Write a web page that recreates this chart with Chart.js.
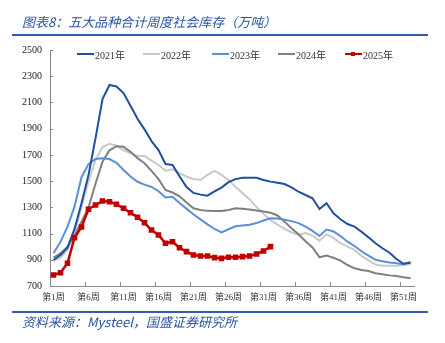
<!DOCTYPE html>
<html>
<head>
<meta charset="utf-8">
<script src="https://cdn.jsdelivr.net/npm/chart.js@4.4.1/dist/chart.umd.min.js"></script>
<style>
  html, body { margin: 0; padding: 0; background: #fff; }
  #wrap { position: relative; width: 445px; height: 343px; overflow: hidden; }
  #c { position: absolute; left: 0; top: 0; }
  .title { position: absolute; left: 22px; top: 13px; font: italic 13px "Noto Sans CJK SC", sans-serif; color: #2a55a0; white-space: nowrap; line-height: 18px; }
  .rule { position: absolute; left: 12px; width: 416px; height: 2px; background: #2f5fae; }
  .src { position: absolute; left: 22px; top: 313px; font: italic 13px "Noto Sans CJK SC", sans-serif; color: #2a55a0; white-space: nowrap; line-height: 18px; }
  .lg { position: absolute; top: 48px; height: 12px; display: flex; align-items: center; font: 10px "Liberation Serif", "Noto Sans CJK SC", serif; color: #333; white-space: nowrap; }
  .lg .ln { width: 17px; height: 2px; margin-right: 1px; position: relative; }
  .lg .mk { position: absolute; left: 6px; top: -1px; width: 4px; height: 4.5px; background: #c00000; }
</style>
</head>
<body>
<div id="wrap">
  <canvas id="c" width="445" height="343"></canvas>
  <div class="title">图表8：五大品种合计周度社会库存（万吨）</div>
  <div class="rule" style="top:34px"></div>
  <div class="rule" style="top:311px"></div>
  <div class="src">资料来源：Mysteel，国盛证券研究所</div>
  <div id="legend"></div>
</div>
<script>
const weekCount = 52;
const weekLabels = [];
for (let i = 1; i <= weekCount; i++) weekLabels.push('第' + i + '周');

const seriesNames = ['2021年', '2022年', '2023年', '2024年', '2025年'];

const s2021 = [898, 936, 992, 1135, 1331, 1547, 1826, 2126, 2233, 2222, 2172, 2075, 1975, 1895, 1805, 1737, 1630, 1623, 1537, 1455, 1410, 1397, 1389, 1422, 1451, 1492, 1515, 1526, 1526, 1526, 1508, 1496, 1488, 1478, 1452, 1419, 1394, 1369, 1287, 1331, 1254, 1209, 1173, 1153, 1114, 1071, 1026, 988, 954, 906, 870, 878];
const s2022 = [890, 916, 975, 1102, 1305, 1496, 1661, 1760, 1785, 1770, 1737, 1712, 1692, 1692, 1656, 1623, 1580, 1590, 1560, 1534, 1516, 1508, 1547, 1578, 1547, 1508, 1455, 1410, 1362, 1302, 1250, 1203, 1168, 1136, 1110, 1089, 1104, 1085, 1046, 1093, 1067, 1026, 1000, 975, 930, 895, 864, 855, 855, 855, 860, 868];
const s2023 = [950, 1038, 1153, 1305, 1530, 1630, 1669, 1674, 1668, 1640, 1585, 1535, 1495, 1473, 1455, 1423, 1375, 1381, 1333, 1290, 1245, 1208, 1170, 1135, 1108, 1133, 1155, 1162, 1168, 1180, 1200, 1216, 1215, 1205, 1195, 1180, 1152, 1120, 1081, 1130, 1116, 1081, 1038, 1005, 965, 932, 900, 889, 880, 873, 866, 884];
const s2024 = [916, 949, 1000, 1084, 1191, 1298, 1480, 1648, 1735, 1766, 1763, 1723, 1675, 1636, 1578, 1515, 1432, 1413, 1384, 1337, 1293, 1280, 1273, 1272, 1272, 1280, 1293, 1290, 1283, 1275, 1268, 1258, 1238, 1191, 1140, 1095, 1041, 994, 919, 933, 915, 893, 860, 835, 822, 814, 797, 789, 781, 776, 766, 759];
const s2025 = [784, 801, 873, 1068, 1150, 1285, 1318, 1348, 1343, 1323, 1293, 1259, 1224, 1182, 1127, 1089, 1026, 1038, 992, 962, 936, 929, 929, 916, 911, 919, 919, 924, 929, 944, 967, 1000];

const yTicks = [700, 900, 1100, 1300, 1500, 1700, 1900, 2100, 2300, 2500];

const colors = ['#1f4fa0', '#c9c9c9', '#5b8fd6', '#808080', '#c00000'];
const seriesData = [s2021, s2022, s2023, s2024, s2025];

// HTML legend
const legendLeft = [77, 143, 212, 278, 345];
const lgRoot = document.getElementById('legend');
seriesNames.forEach((n, i) => {
  const d = document.createElement('div');
  d.className = 'lg';
  d.style.left = legendLeft[i] + 'px';
  const ln = document.createElement('div');
  ln.className = 'ln';
  ln.style.background = colors[i];
  if (i === 4) { const m = document.createElement('div'); m.className = 'mk'; ln.appendChild(m); ln.style.height = '2.5px'; }
  d.appendChild(ln);
  const t = document.createElement('span');
  t.textContent = n;
  d.appendChild(t);
  lgRoot.appendChild(d);
});

const innerTicks = {
  id: 'innerTicks',
  afterDraw(chart) {
    const ctx = chart.ctx;
    const xs = chart.scales.x, ys = chart.scales.y;
    const w = xs.getPixelForValue(1) - xs.getPixelForValue(0);
    ctx.save();
    ctx.strokeStyle = '#888';
    ctx.lineWidth = 1;
    ctx.beginPath();
    for (let k = 5; k <= 50; k += 5) {
      const x = Math.round(xs.getPixelForValue(k) - w / 2) + 0.5;
      ctx.moveTo(x, xs.top);
      ctx.lineTo(x, xs.top - 4);
    }
    yTicks.forEach(v => {
      const y = Math.round(ys.getPixelForValue(v)) + 0.5;
      ctx.moveTo(ys.right, y);
      ctx.lineTo(ys.right + 3, y);
    });
    ctx.stroke();
    ctx.restore();
  }
};

new Chart(document.getElementById('c'), {
  type: 'line',
  data: {
    labels: weekLabels,
    datasets: seriesData.map((d, i) => ({
      label: seriesNames[i],
      data: d,
      borderColor: colors[i],
      backgroundColor: colors[i],
      borderWidth: i === 4 ? 2.5 : 2,
      pointRadius: i === 4 ? 2.2 : 0,
      pointStyle: 'rect',
      pointHoverRadius: 0,
      tension: 0,
      fill: false,
      order: [2, 5, 3, 4, 1][i]
    }))
  },
  options: {
    responsive: false,
    animation: false,
    events: [],
    layout: { padding: { left: 0, right: 31, top: 50, bottom: 32 } },
    plugins: { legend: { display: false }, tooltip: { enabled: false }, title: { display: false } },
    scales: {
      x: {
        type: 'category',
        offset: true,
        grid: { display: true, drawOnChartArea: false, drawTicks: false, color: 'rgba(0,0,0,0)' },
        border: { display: true, color: '#888', width: 1 },
        ticks: {
          autoSkip: false, maxRotation: 0, minRotation: 0, padding: 6,
          color: '#333',
          font: { size: 9, family: '"Liberation Serif", "Noto Sans CJK SC", serif' },
          callback: function (v, idx) { return idx % 5 === 0 ? weekLabels[idx] : ''; }
        },
        afterFit: s => { s.height = 25; }
      },
      y: {
        min: 700, max: 2500,
        afterBuildTicks: s => { s.ticks = yTicks.map(v => ({ value: v })); },
        grid: { display: true, drawOnChartArea: false, drawTicks: false, color: 'rgba(0,0,0,0)' },
        border: { display: true, color: '#888', width: 1 },
        ticks: {
          padding: 8, color: '#222',
          font: { size: 10, family: '"Liberation Serif", serif' },
          callback: v => String(v)
        },
        afterFit: s => { s.width = 50; }
      }
    }
  },
  plugins: [innerTicks]
});
</script>
</body>
</html>
